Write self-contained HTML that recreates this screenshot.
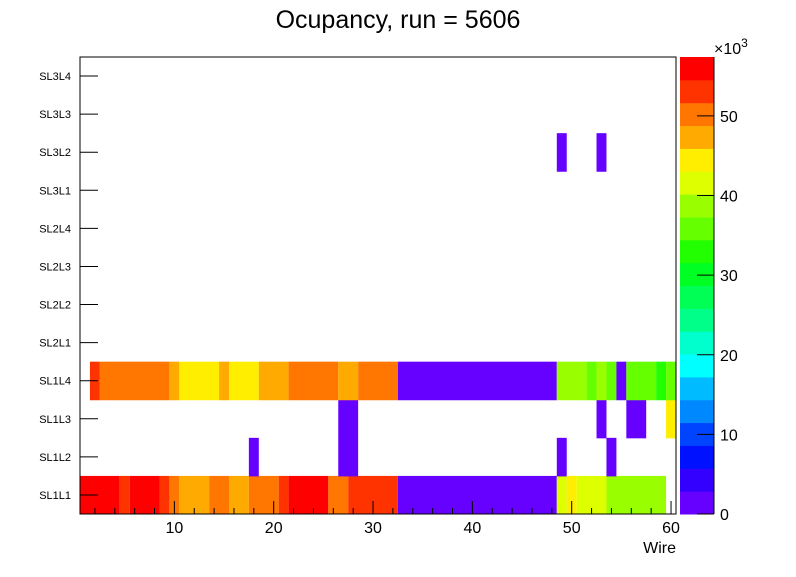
<!DOCTYPE html>
<html><head><meta charset="utf-8"><style>
body{margin:0;background:#fff;font-family:"Liberation Sans",sans-serif}
svg text{font-family:"Liberation Sans",sans-serif}
</style></head><body>
<svg id="c" width="796" height="572">
<rect width="796" height="572" fill="#fff"/>
<text x="398" y="28" font-size="25" text-anchor="middle">Ocupancy, run = 5606</text>
<g id="cells"></g>
<g id="axes"></g>
<rect x="80" y="57" width="596" height="457" fill="none" stroke="#000"/>
<text x="676" y="553" font-size="16" text-anchor="end">Wire</text>
<text x="714" y="54" font-size="16">×10<tspan dy="-7" font-size="12">3</tspan></text>
</svg>
<script>
const rowLabels=["SL1L1","SL1L2","SL1L3","SL1L4","SL2L1","SL2L2","SL2L3","SL2L4","SL3L1","SL3L2","SL3L3","SL3L4"];
// values in thousands, per row: arrays of [firstWire,lastWire,value]
const rowSL1L1=[[1,4,56],[5,5,53],[6,8,56],[9,9,53],[10,10,50],[11,13,47],[14,15,50],[16,17,47],[18,20,50],[21,21,53],[22,25,56],[26,27,50],[28,32,53],[33,48,1],[49,49,41],[50,50,44],[51,53,41],[54,59,38]];
const rowSL1L2=[[18,18,1],[27,28,1],[49,49,1],[54,54,1]];
const rowSL1L3=[[27,28,1],[53,53,1],[56,57,1],[60,60,44]];
const rowSL1L4=[[2,2,53],[3,9,50],[10,10,47],[11,14,44],[15,15,47],[16,18,44],[19,21,47],[22,26,50],[27,28,47],[29,32,50],[33,48,1],[49,51,38],[52,52,35],[53,53,38],[54,54,35],[55,55,1],[56,58,35],[59,59,32],[60,60,35]];
const rowSL3L2=[[49,49,1],[53,53,1]];
const rowsData={0:rowSL1L1,1:rowSL1L2,2:rowSL1L3,3:rowSL1L4,9:rowSL3L2};
const zMax=57.4;
const xTicks=[10,20,30,40,50,60];
const zTicks=[0,10,20,30,40,50];
const palette=["#6600ff","#3300ff","#0011ff","#0044ff","#0088ff","#00bbff","#00ffff","#00ffcc","#00ff88","#00ff55","#00ff22","#22ff00","#66ff00","#99ff00","#ddff00","#ffee00","#ffaa00","#ff7700","#ff3300","#ff0000"];
const NS="http://www.w3.org/2000/svg";
const X0=80,X1=676,Y0=57,Y1=514;
const xs=v=>X0+(v-0.5)/60*(X1-X0);
const rowH=(Y1-Y0)/12;
const ys=r=>Y1-(r+1)*rowH;
const zs=z=>Y1-z/zMax*(Y1-Y0);
const col=z=>palette[Math.min(19,Math.max(0,Math.floor(z/zMax*20)))];
function mk(t,a,p){const e=document.createElementNS(NS,t);for(const k in a)e.setAttribute(k,a[k]);(p||document.getElementById('c')).appendChild(e);return e;}
const cells=document.getElementById('cells'),axes=document.getElementById('axes');
for(const r in rowsData){for(const s of rowsData[r]){
 const e=mk('rect',{x:xs(s[0]-0.5),y:ys(+r),width:xs(s[1]+0.5)-xs(s[0]-0.5),height:rowH+0.5,fill:col(s[2])},cells);
 
 
}}
rowLabels.forEach((l,i)=>{
 const y=ys(i)+rowH/2;
 mk('line',{x1:X0,x2:X0+18,y1:y,y2:y,stroke:'#000'},axes);
 const t=mk('text',{x:71,y:y+4,'font-size':11,'text-anchor':'end'},axes);t.textContent=l;
 
 
});
for(let w=2;w<=60;w+=2){const x=xs(w);const L=w%10==0?13:6;mk('line',{x1:x,x2:x,y1:Y1,y2:Y1-L,stroke:'#000'},axes);}
xTicks.forEach(v=>{const t=mk('text',{x:xs(v),y:533,'font-size':16,'text-anchor':'middle'},axes);t.textContent=v;
 
 });
// colorbar
for(let k=0;k<20;k++){const z0=k*zMax/20,z1=(k+1)*zMax/20;
 const e=mk('rect',{x:680,y:zs(z1),width:34,height:zs(z0)-zs(z1)+0.5,fill:palette[k]},axes);
 
 }
mk('line',{x1:714,x2:714,y1:Y0,y2:Y1,stroke:'#000'},axes);
zTicks.forEach(v=>{const y=zs(v);mk('line',{x1:697,x2:714,y1:y,y2:y,stroke:'#000'},axes);
 const t=mk('text',{x:720,y:y+6,'font-size':16},axes);t.textContent=v;
 
 });
</script>
</body></html>
